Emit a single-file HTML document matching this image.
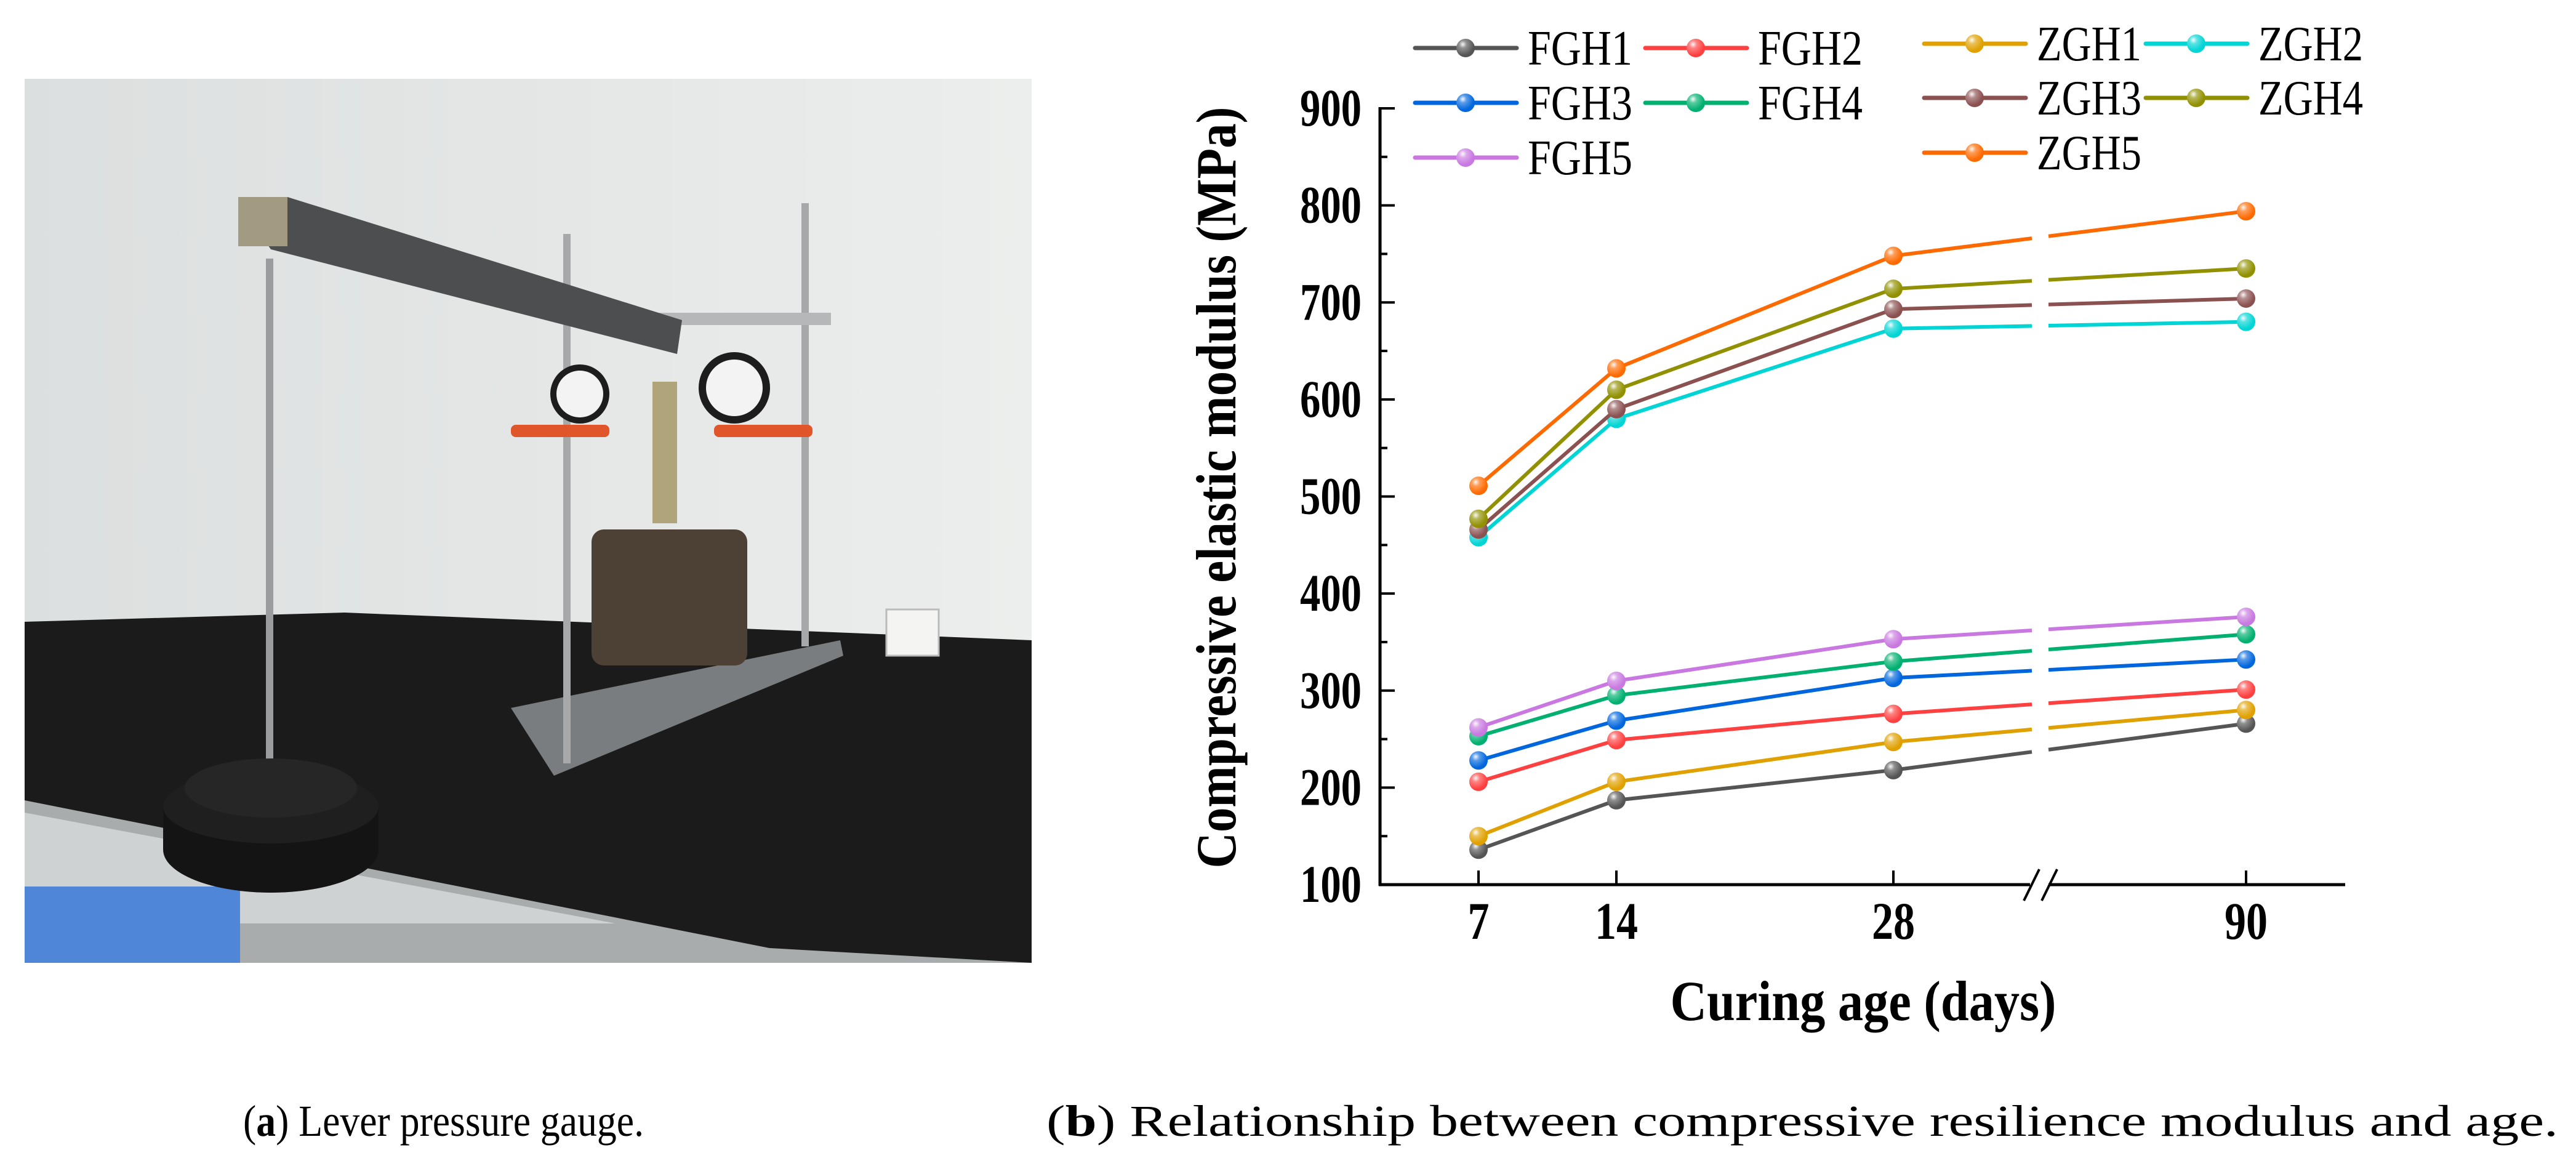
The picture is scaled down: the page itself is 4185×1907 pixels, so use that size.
<!DOCTYPE html>
<html><head><meta charset="utf-8"><style>
html,body{margin:0;padding:0;background:#fff;}
svg{display:block;}
</style></head><body>
<svg id="fig" width="4185" height="1907" viewBox="0 0 4185 1907" xmlns="http://www.w3.org/2000/svg">
<defs>
<linearGradient id="wallg" x1="0" y1="0" x2="1" y2="0"><stop offset="0" stop-color="#dcdfdf"/><stop offset="1" stop-color="#eceeed"/></linearGradient>
<radialGradient id="gloss" cx="0.35" cy="0.3" r="0.6"><stop offset="0" stop-color="#fff" stop-opacity="0.95"/><stop offset="0.35" stop-color="#fff" stop-opacity="0.35"/><stop offset="1" stop-color="#fff" stop-opacity="0"/></radialGradient>
</defs>
<g>
<rect x="40" y="128" width="1636" height="1436" fill="url(#wallg)"/>
<polygon points="40,1010 560,995 1676,1040 1676,1564 1250,1564 40,1310" fill="#1b1b1c"/>
<polygon points="40,1300 1250,1540 1676,1564 40,1564" fill="#a9acad"/>
<polygon points="40,1320 1000,1500 40,1500" fill="#cfd2d3"/>
<rect x="40" y="1440" width="350" height="124" fill="#4f86d8"/>
<rect x="1440" y="990" width="85" height="75" fill="#f4f4f2" stroke="#bbb" stroke-width="3"/>
<polygon points="830,1150 1365,1040 1370,1065 900,1260" fill="#7a7d80"/>
<rect x="961" y="860" width="253" height="221" rx="20" fill="#4d4035"/>
<rect x="432" y="420" width="12" height="840" fill="#9a9c9e"/>
<rect x="915" y="380" width="12" height="860" fill="#a6a8aa"/>
<rect x="1302" y="330" width="12" height="720" fill="#a6a8aa"/>
<rect x="1050" y="508" width="300" height="20" fill="#b5b7b8"/>
<polygon points="395,340 467,320 1108,520 1100,575 440,405" fill="#4c4e50"/>
<rect x="387" y="320" width="80" height="80" fill="#a39a82"/>
<rect x="1060" y="620" width="40" height="230" fill="#b0a47a"/>
<circle cx="942" cy="640" r="48" fill="#1d1d1d"/><circle cx="942" cy="640" r="38" fill="#f3f3f3"/>
<circle cx="1193" cy="630" r="58" fill="#1d1d1d"/><circle cx="1193" cy="630" r="46" fill="#f3f3f3"/>
<rect x="830" y="690" width="160" height="20" rx="8" fill="#e0552a"/>
<rect x="1160" y="690" width="160" height="20" rx="8" fill="#e0552a"/>
<ellipse cx="440" cy="1380" rx="175" ry="70" fill="#141414"/>
<rect x="265" y="1310" width="350" height="70" fill="#141414"/>
<ellipse cx="440" cy="1310" rx="175" ry="60" fill="#1f1f1f"/>
<ellipse cx="440" cy="1280" rx="140" ry="48" fill="#262626"/>
</g>
<text x="395" y="1845" font-family="'Liberation Serif', serif" font-size="72" fill="#000" textLength="651" lengthAdjust="spacingAndGlyphs">(<tspan font-weight="bold">a</tspan>) Lever pressure gauge.</text>
<text x="1700" y="1845" font-family="'Liberation Serif', serif" font-size="72" fill="#000" textLength="2456" lengthAdjust="spacingAndGlyphs">(<tspan font-weight="bold">b</tspan>) Relationship between compressive resilience modulus and age.</text>
<g id="chart"></g>
</svg>
<script>
const categories = ["7", "14", "28", "90"];
const seriesNames = ["FGH1","FGH2","FGH3","FGH4","FGH5","ZGH1","ZGH2","ZGH3","ZGH4","ZGH5"];
const FGH1 = [136, 187, 218, 266];
const FGH2 = [206, 249, 276, 301];
const FGH3 = [228, 269, 313, 332];
const FGH4 = [253, 295, 330, 358];
const FGH5 = [262, 310, 353, 376];
const ZGH1 = [150, 206, 247, 280];
const ZGH2 = [458, 580, 673, 680];
const ZGH3 = [466, 590, 693, 704];
const ZGH4 = [477, 610, 714, 735];
const ZGH5 = [511, 632, 748, 794];
const yTicks = [100, 200, 300, 400, 500, 600, 700, 800, 900];
const seriesData = [FGH1,FGH2,FGH3,FGH4,FGH5,ZGH1,ZGH2,ZGH3,ZGH4,ZGH5];
const colors = ["#555555","#ff4040","#0066dd","#00b070","#c878e0","#e0a000","#00d4d4","#8b5050","#909000","#ff6a00"];

const NS = "http://www.w3.org/2000/svg";
const g = document.getElementById("chart");
const FF = "'Liberation Serif', serif";
function el(tag, attrs, parent) {
  const e = document.createElementNS(NS, tag);
  for (const k in attrs) e.setAttribute(k, attrs[k]);
  (parent || g).appendChild(e);
  return e;
}
const X0 = 2242, Y0 = 1437, XEND = 3810;
const catX = [2402, 2626, 3076, 3649];
function xScale(i) { return catX[i]; }
function yScale(v) { return Y0 - (v - 100) * (1437 - 176) / 800; }
const GAP0 = 3301, GAP1 = 3328;

let a = el("line", {x1: X0, y1: 174, x2: X0, y2: Y0 + 2, stroke: "#000", "stroke-width": 5});


a = el("line", {x1: X0 - 2, y1: Y0, x2: XEND, y2: Y0, stroke: "#000", "stroke-width": 5});


el("rect", {x: 3298, y: Y0 - 5, width: 30, height: 10, fill: "#fff"});
let br = el("path", {d: "M3313,1412 L3288,1463 M3342,1412 L3317,1463", stroke: "#000", "stroke-width": 4, fill: "none"});



yTicks.forEach((v, i) => {
  const y = yScale(v);
  el("line", {x1: X0, y1: y, x2: X0 + 24, y2: y, stroke: "#000", "stroke-width": 4});
  if (i < yTicks.length - 1) {
    const ym = yScale(v + 50);
    el("line", {x1: X0, y1: ym, x2: X0 + 12, y2: ym, stroke: "#000", "stroke-width": 4});
  }
  const t = el("text", {x: 2212, y: y + 28, "text-anchor": "end", "font-family": FF, "font-weight": "bold", "font-size": 86, textLength: 100, lengthAdjust: "spacingAndGlyphs"});
  
  
  t.textContent = v;
});
categories.forEach((c, i) => {
  const x = xScale(i);
  el("line", {x1: x, y1: Y0, x2: x, y2: Y0 - 23, stroke: "#000", "stroke-width": 4});
  const t = el("text", {x: x, y: 1525, "text-anchor": "middle", "font-family": FF, "font-weight": "bold", "font-size": 86, textLength: c.length * 35, lengthAdjust: "spacingAndGlyphs"});
  
  
  t.textContent = c;
});
let xt = el("text", {x: 3027, y: 1657, "text-anchor": "middle", "font-family": FF, "font-weight": "bold", "font-size": 92, textLength: 627, lengthAdjust: "spacingAndGlyphs"});


xt.textContent = "Curing age (days)";
let yt = el("text", {x: 0, y: 0, transform: "translate(2007,792) rotate(-90)", "text-anchor": "middle", "font-family": FF, "font-weight": "bold", "font-size": 92, textLength: 1237, lengthAdjust: "spacingAndGlyphs"});


yt.textContent = "Compressive elastic modulus (MPa)";

function marker(x, y, col, parent) {
  el("circle", {cx: x, cy: y, r: 15, fill: col}, parent);
  el("circle", {cx: x, cy: y, r: 15, fill: "url(#gloss)"}, parent);
}

seriesData.forEach((vals, s) => {
  const sg = el("g", {});
  
  
  for (let i = 0; i < vals.length - 1; i++) {
    const x1 = xScale(i), y1 = yScale(vals[i]), x2 = xScale(i + 1), y2 = yScale(vals[i + 1]);
    if (x1 < GAP0 && x2 > GAP1) {
      const f0 = (GAP0 - x1) / (x2 - x1), f1 = (GAP1 - x1) / (x2 - x1);
      el("line", {x1: x1, y1: y1, x2: GAP0, y2: y1 + (y2 - y1) * f0, stroke: colors[s], "stroke-width": 6}, sg);
      el("line", {x1: GAP1, y1: y1 + (y2 - y1) * f1, x2: x2, y2: y2, stroke: colors[s], "stroke-width": 6}, sg);
    } else {
      el("line", {x1: x1, y1: y1, x2: x2, y2: y2, stroke: colors[s], "stroke-width": 6}, sg);
    }
  }
  vals.forEach((v, i) => marker(xScale(i), yScale(v), colors[s], sg));
});

const legPos = [
  [2299, 78], [2673, 78], [2299, 167], [2673, 167], [2299, 256],
  [3126, 71], [3486, 71], [3126, 159], [3486, 159], [3126, 248]
];
seriesNames.forEach((n, s) => {
  const lg = el("g", {});
  
  
  const [lx, ly] = legPos[s];
  el("line", {x1: lx, y1: ly, x2: lx + 165, y2: ly, stroke: colors[s], "stroke-width": 7, "stroke-linecap": "round"}, lg);
  marker(lx + 82, ly, colors[s], lg);
  const t = el("text", {x: lx + 183, y: ly + 27, "font-family": FF, "font-size": 80, textLength: 170, lengthAdjust: "spacingAndGlyphs"}, lg);
  t.textContent = n;
});
</script>
</body></html>
